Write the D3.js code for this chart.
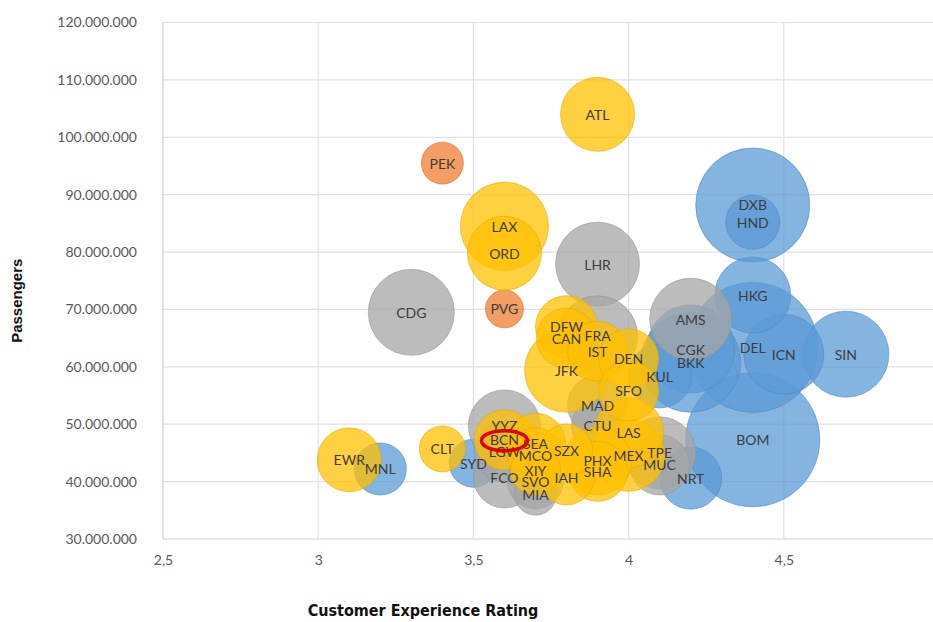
<!DOCTYPE html>
<html>
<head>
<meta charset="utf-8">
<script src="https://cdn.jsdelivr.net/npm/d3@7"></script>
<style>
  html, body { margin: 0; padding: 0; background: #ffffff; }
  svg { display: block; }
</style>
</head>
<body>
<svg id="chart" width="933" height="622"></svg>
<script>
// Airport codes, customer experience rating, annual passengers, bubble size, series
const airports = ["ATL","PEK","LAX","ORD","LHR","CDG","PVG","DFW","CAN","FRA","IST","DEN","JFK","KUL","SFO","MAD","CTU","LAS","PHX","SHA","MEX","TPE","MUC","NRT","BOM","YYZ","BCN","SEA","LGW","MCO","SZX","XIY","FCO","SVO","IAH","MIA","SYD","CLT","EWR","MNL","AMS","CGK","BKK","DXB","HND","HKG","DEL","ICN","SIN"];
const rating = [3.9,3.4,3.6,3.6,3.9,3.3,3.6,3.8,3.8,3.9,3.9,4.0,3.8,4.1,4.0,3.9,3.9,4.0,3.9,3.9,4.0,4.1,4.1,4.2,4.4,3.6,3.6,3.7,3.6,3.7,3.8,3.7,3.6,3.7,3.8,3.7,3.5,3.4,3.1,3.2,4.2,4.2,4.2,4.4,4.4,4.4,4.4,4.5,4.7];
const passengers = [104.0,95.5,84.5,79.8,77.9,69.5,70.1,67.0,65.0,65.4,62.7,61.4,59.4,58.4,55.8,53.3,49.7,48.5,43.6,41.8,44.6,45.0,42.9,40.6,47.3,49.7,47.3,46.7,45.2,44.5,45.5,42.0,40.8,40.1,40.8,37.8,43.2,45.7,43.8,42.2,68.3,63.1,60.8,88.2,85.2,72.5,63.4,62.2,62.2].map(v => v * 1e6);
const bubbleSize = [13.7,4.4,19.4,13.7,17.6,18.5,3.6,9.6,9.0,16.0,9.0,9.0,17.6,10.2,9.0,9.0,6.8,12.3,11.6,9.0,13.0,13.0,9.0,9.6,44.9,13.0,9.0,9.0,9.0,7.8,6.8,6.3,9.6,7.8,7.8,4.4,5.8,5.3,10.2,6.8,16.8,19.4,25.0,32.5,7.3,14.4,42.3,16.0,18.5];
const series = ["Series4","Series2","Series4","Series4","Series3","Series3","Series2","Series4","Series4","Series3","Series4","Series4","Series4","Series1","Series4","Series3","Series3","Series4","Series4","Series4","Series4","Series3","Series3","Series1","Series1","Series3","Series4","Series4","Series3","Series4","Series4","Series4","Series3","Series3","Series4","Series3","Series1","Series4","Series4","Series1","Series3","Series1","Series1","Series1","Series1","Series1","Series1","Series1","Series1"];

// Axis ticks
const xTicks = [2.5, 3, 3.5, 4, 4.5, 5];
const yTicks = [30e6, 40e6, 50e6, 60e6, 70e6, 80e6, 90e6, 100e6, 110e6, 120e6];

// Series order (drawing order) and colours
const seriesNames = ["Series1","Series2","Series3","Series4"];
const seriesColors = ["#5B9BD5","#ED7D31","#A5A5A5","#FFC000"];

// Highlighted airport
const highlight = "BCN";

const svg = d3.select("#chart");

const x = d3.scaleLinear().domain([2.5, 5]).range([163, 939]);
const y = d3.scaleLinear().domain([30e6, 120e6]).range([539, 22.5]);
const r = d3.scaleSqrt().domain([0, 100]).range([0, 100]);
const color = d3.scaleOrdinal().domain(seriesNames).range(seriesColors);

const data = airports.map((code, i) => ({
  code, rating: rating[i], passengers: passengers[i], size: bubbleSize[i], series: series[i]
}));

// Gridlines
const grid = svg.append("g");
grid.selectAll("line.h").data(yTicks).join("line")
  .attr("x1", x(2.5)).attr("x2", x(5))
  .attr("y1", d => y(d)).attr("y2", d => y(d))
  .attr("stroke", d => d === 30e6 ? "#cfcfcf" : "#e1e1e1").attr("stroke-width", 1.2);
grid.selectAll("line.v").data(xTicks).join("line")
  .attr("y1", y(120e6)).attr("y2", y(30e6))
  .attr("x1", d => x(d)).attr("x2", d => x(d))
  .attr("stroke", d => d === 2.5 ? "#cfcfcf" : "#e1e1e1").attr("stroke-width", 1.2);

// Y axis labels
const fmt = v => d3.format(",")(v).replace(/,/g, ".");
const yAxis = d3.axisLeft(y).tickValues(yTicks).tickFormat(fmt).tickSize(0).tickPadding(26);
svg.append("g").attr("transform", `translate(${x(2.5)},0)`).call(yAxis)
  .call(g => g.select(".domain").remove())
  .call(g => g.selectAll("text").attr("fill", "#595959")
    .style("font-family", "Lato, 'Open Sans', sans-serif").style("font-size", "14px"));

// X axis labels
const xAxis = d3.axisBottom(x).tickValues(xTicks.filter(d => d < 5))
  .tickFormat(d => String(d).replace(".", ",")).tickSize(0).tickPadding(16);
svg.append("g").attr("transform", `translate(0,${y(30e6)})`).call(xAxis)
  .call(g => g.select(".domain").remove())
  .call(g => g.selectAll("text").attr("fill", "#595959")
    .style("font-family", "Lato, 'Open Sans', sans-serif").style("font-size", "14px"));

// Bubbles: by series, larger bubbles first inside each series
const ordered = data.slice().sort((a, b) =>
  seriesNames.indexOf(a.series) - seriesNames.indexOf(b.series) || b.size - a.size);

svg.append("g").selectAll("circle").data(ordered).join("circle")
  .attr("cx", d => x(d.rating)).attr("cy", d => y(d.passengers))
  .attr("r", d => r(d.size))
  .attr("fill", d => color(d.series)).attr("fill-opacity", 0.75)
  .attr("stroke", d => d3.color(color(d.series)).darker(0.3)).attr("stroke-opacity", 0.6)
  .attr("stroke-width", 1);

// Data labels at the bubble centres
svg.append("g").selectAll("text").data(data).join("text")
  .attr("x", d => x(d.rating)).attr("y", d => y(d.passengers))
  .attr("text-anchor", "middle").attr("dominant-baseline", "central")
  .attr("fill", "#3d3d3d")
  .style("font-family", "Lato, 'Open Sans', sans-serif").style("font-size", "14px")
  .text(d => d.code);

// Red ring around the highlighted label
const hl = data.find(d => d.code === highlight);
svg.append("ellipse")
  .attr("cx", x(hl.rating)).attr("cy", y(hl.passengers) + 1)
  .attr("rx", 23).attr("ry", 10)
  .attr("fill", "none").attr("stroke", "#e3000b").attr("stroke-width", 3.5);

// Axis titles
svg.append("text")
  .attr("transform", `translate(22,${(y(30e6) + y(120e6)) / 2 + 20}) rotate(-90)`)
  .attr("text-anchor", "middle").attr("fill", "#111")
  .style("font-family", "'Liberation Sans', Arial, sans-serif").style("font-weight", "bold").style("font-size", "15px")
  .text("Passengers");

svg.append("text")
  .attr("x", 423).attr("y", 616)
  .attr("text-anchor", "middle").attr("fill", "#111")
  .style("font-family", "'Liberation Sans Narrow', 'DejaVu Sans Condensed', sans-serif").style("font-weight", "bold").style("font-size", "16px")
  .text("Customer Experience Rating");
</script>
</body>
</html>
